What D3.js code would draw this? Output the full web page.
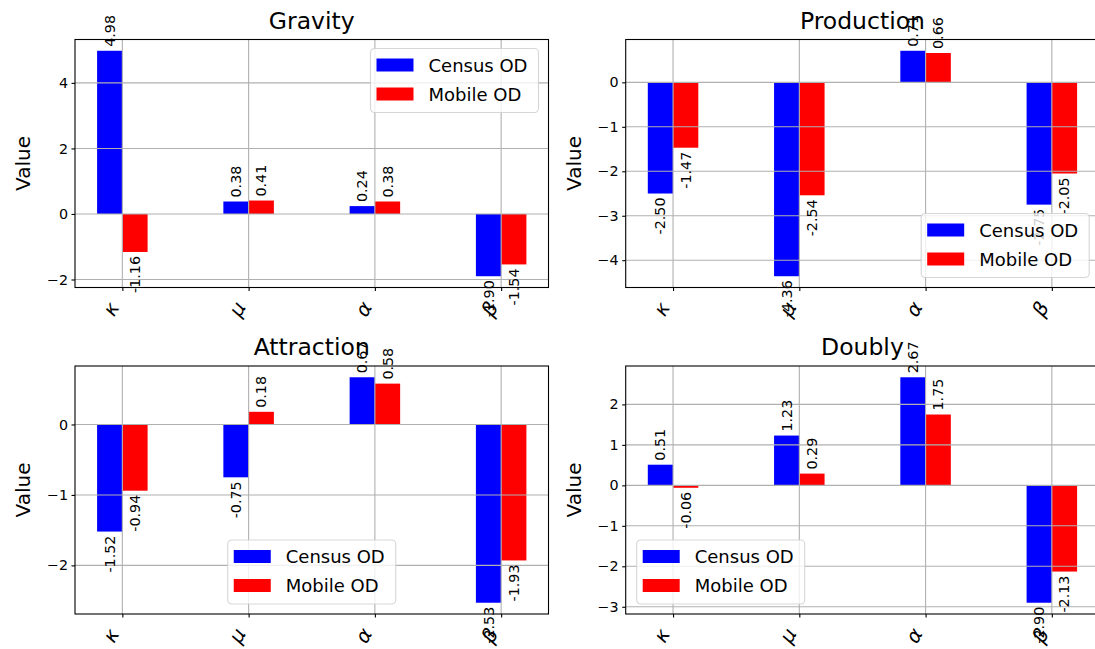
<!DOCTYPE html>
<html>
<head>
<meta charset="utf-8">
<script src="https://cdn.jsdelivr.net/npm/d3@7"></script>
<style>
  body { margin: 0; background: #fff; }
  svg { font-family: "DejaVu Sans", sans-serif; }
</style>
</head>
<body>
<div id="chart"></div>
<script>
/* Data */
const params = ["κ", "μ", "α", "β"];
const seriesNames = ["Census OD", "Mobile OD"];
const seriesColors = ["#0000ff", "#ff0000"];
const panelTitles = ["Gravity", "Production", "Attraction", "Doubly"];

const gravityCensus = [4.98, 0.38, 0.24, -1.90];
const gravityMobile = [-1.16, 0.41, 0.38, -1.54];
const productionCensus = [-2.50, -4.36, 0.71, -2.75];
const productionMobile = [-1.47, -2.54, 0.66, -2.05];
const attractionCensus = [-1.52, -0.75, 0.67, -2.53];
const attractionMobile = [-0.94, 0.18, 0.58, -1.93];
const doublyCensus = [0.51, 1.23, 2.67, -2.90];
const doublyMobile = [-0.06, 0.29, 1.75, -2.13];

const gravityTicks = [-2, 0, 2, 4];
const productionTicks = [-4, -3, -2, -1, 0];
const attractionTicks = [-2, -1, 0];
const doublyTicks = [-3, -2, -1, 0, 1, 2];

const legendPlaces = ["upper right", "lower right", "lower center", "lower left"];

/* Dimensions */
const width = 1095, height = 649;
const axW = 473.5, axH = 248;
const lefts = [75, 625.7];
const tops = [39.5, 366];

const panels = [
  { title: panelTitles[0], series: [gravityCensus, gravityMobile], ticks: gravityTicks, legend: legendPlaces[0] },
  { title: panelTitles[1], series: [productionCensus, productionMobile], ticks: productionTicks, legend: legendPlaces[1] },
  { title: panelTitles[2], series: [attractionCensus, attractionMobile], ticks: attractionTicks, legend: legendPlaces[2] },
  { title: panelTitles[3], series: [doublyCensus, doublyMobile], ticks: doublyTicks, legend: legendPlaces[3] },
];

const svg = d3.select("#chart")
  .append("svg")
  .attr("width", width)
  .attr("height", height);

const fmtTick = d => (d < 0 ? "\u2212" + Math.abs(d) : String(d));

panels.forEach((p, i) => {
  const left = lefts[i % 2];
  const top = tops[Math.floor(i / 2)];

  const all = p.series.flat().concat([0]);
  const lo = d3.min(all), hi = d3.max(all);
  const m = (hi - lo) * 0.05;

  /* Scales */
  const x = d3.scaleLinear().domain([-0.375, 3.375]).range([left, left + axW]);
  const y = d3.scaleLinear().domain([lo - m, hi + m]).range([top + axH, top]);
  const bw = x(0.2) - x(0);

  const g = svg.append("g");

  const clipId = "clip" + i;
  g.append("clipPath").attr("id", clipId)
    .append("rect")
    .attr("x", left).attr("y", top).attr("width", axW).attr("height", axH);

  // bars
  const barsG = g.append("g").attr("clip-path", `url(#${clipId})`);
  p.series.forEach((vals, s) => {
    barsG.selectAll(".bar" + s)
      .data(vals)
      .enter()
      .append("rect")
      .attr("x", (d, k) => x(k) + (s === 0 ? -bw : 0))
      .attr("width", bw)
      .attr("y", d => Math.min(y(d), y(0)))
      .attr("height", d => Math.abs(y(d) - y(0)))
      .attr("fill", seriesColors[s]);
  });

  // grid (above bars, like matplotlib)
  const gridG = g.append("g").attr("clip-path", `url(#${clipId})`);
  gridG.selectAll(".vg")
    .data(d3.range(params.length))
    .enter()
    .append("line")
    .attr("x1", d => x(d)).attr("x2", d => x(d))
    .attr("y1", top).attr("y2", top + axH)
    .attr("stroke", "#b0b0b0").attr("stroke-width", 1.1);
  gridG.selectAll(".hg")
    .data(p.ticks)
    .enter()
    .append("line")
    .attr("x1", left).attr("x2", left + axW)
    .attr("y1", d => y(d)).attr("y2", d => y(d))
    .attr("stroke", "#b0b0b0").attr("stroke-width", 1.1);

  /* Axes */
  const yAxis = g.append("g")
    .attr("transform", `translate(${left},0)`)
    .call(d3.axisLeft(y).tickValues(p.ticks).tickSize(3.5).tickPadding(3.5).tickFormat(fmtTick));
  yAxis.select(".domain").remove();
  yAxis.selectAll("line").attr("stroke", "#000").attr("stroke-width", 1.1);
  yAxis.selectAll("text").attr("font-size", 14.3).attr("fill", "#000").attr("font-family", "DejaVu Sans");

  const xAxis = g.append("g")
    .attr("transform", `translate(0,${top + axH})`)
    .call(d3.axisBottom(x).tickValues(d3.range(params.length)).tickSize(3.5).tickFormat(k => params[k]));
  xAxis.select(".domain").remove();
  xAxis.selectAll("line").attr("stroke", "#000").attr("stroke-width", 1.1);
  xAxis.selectAll("text")
    .attr("y", 0)
    .attr("dy", "0.35em")
    .attr("text-anchor", "middle")
    .attr("transform", "translate(-12,21.5) rotate(-60)")
    .attr("font-size", 20)
    .attr("font-style", "italic")
    .attr("fill", "#000")
    .attr("font-family", "DejaVu Sans");

  // spines
  g.append("rect")
    .attr("x", left).attr("y", top).attr("width", axW).attr("height", axH)
    .attr("fill", "none").attr("stroke", "#000").attr("stroke-width", 1.1);

  // bar labels
  p.series.forEach((vals, s) => {
    g.selectAll(".lab" + s)
      .data(vals)
      .enter()
      .append("text")
      .attr("transform", (d, k) => {
        const cx = x(k) + (s === 0 ? -bw / 2 : bw / 2);
        const cy = d >= 0 ? y(d) - 4 : y(d) + 4;
        return `translate(${cx},${cy}) rotate(-90)`;
      })
      .attr("text-anchor", d => (d >= 0 ? "start" : "end"))
      .attr("dominant-baseline", "central")
      .attr("font-size", 14.3)
      .attr("fill", "#000")
      .text(d => d.toFixed(2));
  });

  // title
  g.append("text")
    .attr("x", left + axW / 2)
    .attr("y", top - 11)
    .attr("text-anchor", "middle")
    .attr("font-size", 23.5)
    .attr("fill", "#000")
    .text(p.title);

  // y label
  g.append("text")
    .attr("transform", `translate(${left - 52},${top + axH / 2}) rotate(-90)`)
    .attr("text-anchor", "middle")
    .attr("dominant-baseline", "central")
    .attr("font-size", 20)
    .attr("fill", "#000")
    .text("Value");

  /* Legend */
  const lw = 168, lh = 64, pad = 10;
  let lx, ly;
  if (p.legend === "upper right") { lx = left + axW - pad - lw; ly = top + pad - 1; }
  else if (p.legend === "lower right") { lx = left + axW - pad - lw; ly = top + axH - pad - lh; }
  else if (p.legend === "lower center") { lx = left + axW / 2 - lw / 2; ly = top + axH - pad - lh; }
  else { lx = left + pad + 1; ly = top + axH - pad - lh; }

  const lg = g.append("g").attr("transform", `translate(${lx},${ly})`);
  lg.append("rect")
    .attr("width", lw).attr("height", lh)
    .attr("rx", 4).attr("ry", 4)
    .attr("fill", "#fff").attr("fill-opacity", 0.8)
    .attr("stroke", "#cccccc").attr("stroke-opacity", 0.8).attr("stroke-width", 1.1);
  seriesNames.forEach((name, s) => {
    const cy = 16.5 + s * 29;
    lg.append("rect")
      .attr("x", 6).attr("y", cy - 6.5)
      .attr("width", 37).attr("height", 13)
      .attr("fill", seriesColors[s]);
    lg.append("text")
      .attr("x", 58).attr("y", cy)
      .attr("dominant-baseline", "central")
      .attr("font-size", 18)
      .attr("fill", "#000")
      .text(name);
  });
});
</script>
</body>
</html>
